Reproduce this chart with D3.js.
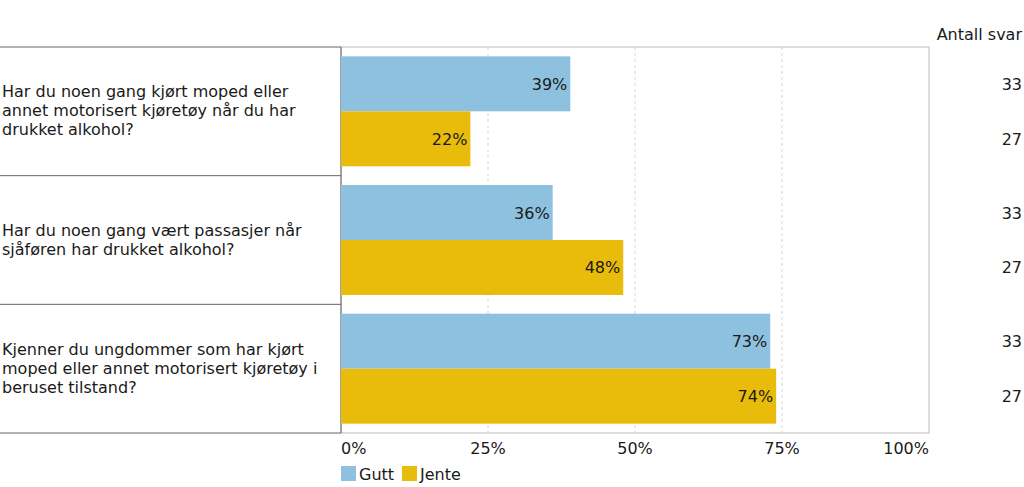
<!DOCTYPE html>
<html>
<head>
<meta charset="utf-8">
<script src="https://cdn.jsdelivr.net/npm/d3@7"></script>
<style>
  body { margin: 0; background: #fff; }
  svg text { font-family: "DejaVu Sans", Verdana, sans-serif; fill: #1a1a1a; font-size: 16px; }
</style>
</head>
<body>
<svg id="chart" width="1024" height="487"></svg>
<script>
// questions, top to bottom
const questions = [
  ['Har du noen gang kjørt moped eller', 'annet motorisert kjøretøy når du har', 'drukket alkohol?'],
  ['Har du noen gang vært passasjer når', 'sjåføren har drukket alkohol?'],
  ['Kjenner du ungdommer som har kjørt', 'moped eller annet motorisert kjøretøy i', 'beruset tilstand?']
];
const seriesNames = ['Gutt', 'Jente'];
const guttValues = [39, 36, 73];
const jenteValues = [22, 48, 74];
const guttCounts = [33, 33, 33];
const jenteCounts = [27, 27, 27];
const ticks = [0, 25, 50, 75, 100];

const colors = { Gutt: '#8dc1df', Jente: '#e9bc0b' };

const svg = d3.select('#chart');
const plotLeft = 341, plotRight = 929, plotTop = 47, plotBottom = 433;

const x = d3.scaleLinear().domain([0, 100]).range([plotLeft, plotRight]);
const y = d3.scaleBand().domain(d3.range(questions.length)).range([plotTop, plotBottom]);
const inner = d3.scaleBand().domain(seriesNames).range([0, y.bandwidth()]).paddingOuter(0.17);

// plot frame
svg.append('rect')
  .attr('x', plotLeft).attr('y', plotTop)
  .attr('width', plotRight - plotLeft).attr('height', plotBottom - plotTop)
  .attr('fill', 'none').attr('stroke', '#bdbdbd');

// gridlines
svg.append('g').selectAll('line')
  .data(ticks.slice(1, -1))
  .join('line')
  .attr('x1', d => x(d)).attr('x2', d => x(d))
  .attr('y1', plotTop).attr('y2', plotBottom)
  .attr('stroke', '#d6d6d6').attr('stroke-dasharray', '3,3');

// left label boxes
const rows = svg.append('g');
rows.selectAll('line.sep')
  .data(d3.range(questions.length + 1))
  .join('line')
  .attr('class', 'sep')
  .attr('x1', 0).attr('x2', plotLeft)
  .attr('y1', d => d < questions.length ? y(d) : plotBottom)
  .attr('y2', d => d < questions.length ? y(d) : plotBottom)
  .attr('stroke', '#666');
rows.append('line')
  .attr('x1', plotLeft).attr('x2', plotLeft).attr('y1', plotTop).attr('y2', plotBottom)
  .attr('stroke', '#666');

rows.selectAll('text.q')
  .data(questions)
  .join('text')
  .attr('class', 'q')
  .attr('x', 2)
  .attr('y', (d, i) => y(i) + y.bandwidth() / 2 - (d.length - 1) * 9.5 + 5)
  .selectAll('tspan')
  .data(d => d)
  .join('tspan')
  .attr('x', 2)
  .attr('dy', (d, i) => i === 0 ? 0 : 19)
  .text(d => d);

// bars
const data = [];
questions.forEach((q, i) => {
  data.push({ q: i, s: 'Gutt', v: guttValues[i], n: guttCounts[i] });
  data.push({ q: i, s: 'Jente', v: jenteValues[i], n: jenteCounts[i] });
});

const bars = svg.append('g');
bars.selectAll('rect')
  .data(data)
  .join('rect')
  .attr('x', x(0))
  .attr('y', d => y(d.q) + inner(d.s))
  .attr('width', d => x(d.v) - x(0))
  .attr('height', inner.bandwidth())
  .attr('fill', d => colors[d.s]);

bars.selectAll('text.val')
  .data(data)
  .join('text')
  .attr('class', 'val')
  .attr('x', d => x(d.v) - 3)
  .attr('y', d => y(d.q) + inner(d.s) + inner.bandwidth() / 2 + 6)
  .attr('text-anchor', 'end')
  .text(d => d.v + '%');

// counts
svg.append('text')
  .attr('x', 1022).attr('y', 40)
  .attr('text-anchor', 'end')
  .text('Antall svar');
svg.append('g').selectAll('text')
  .data(data)
  .join('text')
  .attr('x', 1022)
  .attr('y', d => y(d.q) + inner(d.s) + inner.bandwidth() / 2 + 6)
  .attr('text-anchor', 'end')
  .text(d => d.n);

// x axis labels
svg.append('g').selectAll('text')
  .data(ticks)
  .join('text')
  .attr('x', d => x(d))
  .attr('y', 454)
  .attr('text-anchor', d => d === 0 ? 'start' : d === 100 ? 'end' : 'middle')
  .text(d => d + '%');

// legend
const legend = svg.append('g').attr('transform', 'translate(341,466)');
const item = legend.selectAll('g')
  .data(seriesNames)
  .join('g')
  .attr('transform', (d, i) => 'translate(' + (i * 61) + ',0)');
item.append('rect')
  .attr('width', 15).attr('height', 15)
  .attr('fill', d => colors[d]);
item.append('text')
  .attr('x', 18).attr('y', 14)
  .text(d => d);
</script>
</body>
</html>
